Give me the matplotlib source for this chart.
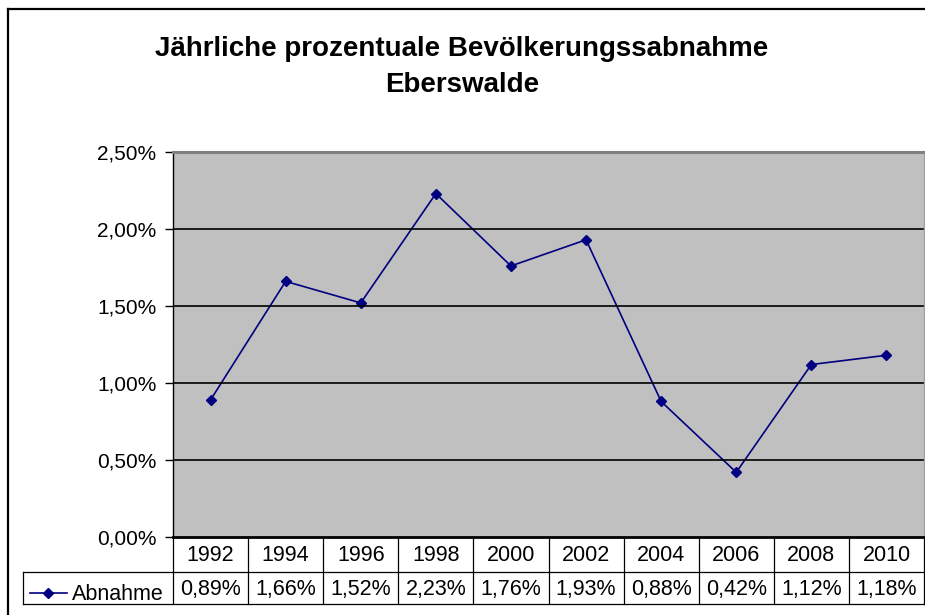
import matplotlib
matplotlib.use("Agg")
import matplotlib.pyplot as plt
from matplotlib.lines import Line2D
import matplotlib.transforms as mtransforms

plt.rcParams['font.family'] = ['Liberation Sans', 'DejaVu Sans']

years = ["1992", "1994", "1996", "1998", "2000", "2002", "2004", "2006", "2008", "2010"]
values = [0.89, 1.66, 1.52, 2.23, 1.76, 1.93, 0.88, 0.42, 1.12, 1.18]
series_name = "Abnahme"
title = "Jährliche prozentuale Bevölkerungssabnahme\nEberswalde"
yticks = [0.0, 0.5, 1.0, 1.5, 2.0, 2.5]

def pct(v):
    return f"{v:.2f}".replace(".", ",") + "%"

W, H = 925, 615
fig = plt.figure(figsize=(W / 100, H / 100), dpi=100)
fig.patch.set_facecolor("white")

def fx(px):
    return px / W

def fy(py):
    return 1 - py / H

# outer chart border (left and top visible)
fig.add_artist(Line2D([fx(8), fx(8)], [fy(9), fy(H + 5)], color="black", lw=1.6, transform=fig.transFigure))
fig.add_artist(Line2D([fx(8), fx(W + 5)], [fy(9), fy(9)], color="black", lw=1.6, transform=fig.transFigure))

left, right, top, bottom = 173, 924, 152, 537
ax = fig.add_axes([fx(left), fy(bottom), fx(right) - fx(left), fy(top) - fy(bottom)])
ax.set_facecolor("#C0C0C0")

x = list(range(len(years)))
ax.plot(x, values, color="#000080", lw=1.2, marker="D", markersize=5.5,
        markerfacecolor="#000080", markeredgecolor="#000080")

ax.set_xlim(-0.5, len(years) - 0.5)
ax.set_ylim(0, 2.5)
ax.set_yticks(yticks)
ax.set_yticklabels([pct(v) for v in yticks], fontsize=15)
ax.set_xticks([])
ax.tick_params(axis="y", length=6, width=1, color="black", pad=6)
for v in yticks[1:-1]:
    ax.axhline(v, color="black", lw=1.2)

ax.spines["top"].set_color("#808080")
ax.spines["top"].set_linewidth(2.2)
ax.spines["right"].set_color("#A0A0A0")
ax.spines["right"].set_linewidth(1)
ax.spines["left"].set_color("black")
ax.spines["left"].set_linewidth(1)
ax.spines["bottom"].set_color("black")
ax.spines["bottom"].set_linewidth(2)

# data table below axes
trans = mtransforms.blended_transform_factory(ax.transData, fig.transFigure)
r1_top, r1_bot, r2_bot = 537, 572, 604
for k in range(len(years) + 1):
    fig.add_artist(Line2D([k - 0.5, k - 0.5], [fy(r1_top), fy(r2_bot)], color="black", lw=0.9, transform=trans))
fig.add_artist(Line2D([fx(23), fx(right)], [fy(r1_bot), fy(r1_bot)], color="black", lw=0.9, transform=fig.transFigure))
fig.add_artist(Line2D([fx(23), fx(right)], [fy(r2_bot), fy(r2_bot)], color="black", lw=0.9, transform=fig.transFigure))
fig.add_artist(Line2D([fx(23), fx(23)], [fy(r1_bot), fy(r2_bot)], color="black", lw=0.9, transform=fig.transFigure))

for i, (yr, v) in enumerate(zip(years, values)):
    fig.text(i, fy((r1_top + r1_bot) / 2 + 1), yr, transform=trans, ha="center", va="center", fontsize=15.5)
    fig.text(i, fy((r1_bot + r2_bot) / 2 + 1), pct(v), transform=trans, ha="center", va="center", fontsize=15.5)

# legend key in table
ly = fy(593)
fig.add_artist(Line2D([fx(30), fx(67)], [ly, ly], color="#000080", lw=1.2, transform=fig.transFigure))
fig.add_artist(Line2D([fx(48)], [ly], color="#000080", marker="D", markersize=5.5, transform=fig.transFigure))
fig.text(fx(72), fy(594), series_name, ha="left", va="center", fontsize=15.5)

fig.text(fx(462), fy(67), title, ha="center", va="center", fontsize=20, fontweight="bold", linespacing=1.55)

fig.savefig("out.png", dpi=100, facecolor="white")
